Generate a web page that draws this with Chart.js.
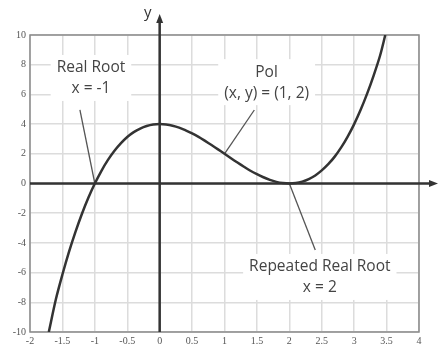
<!DOCTYPE html>
<html>
<head>
<meta charset="utf-8">
<script src="https://cdn.jsdelivr.net/npm/chart.js@4.4.1/dist/chart.umd.min.js"></script>
<style>
  html, body { margin: 0; padding: 0; background: #fff; }
  #wrap { width: 439px; height: 347px; }
</style>
</head>
<body>
<div id="wrap"><canvas id="cubicChart" width="439" height="347"></canvas></div>
<script>
// Cubic with a real root at -1 and a repeated root at 2
const xValues = [
  -1.71, -1.6, -1.5, -1.4, -1.3, -1.2, -1.1, -1.0, -0.9, -0.8, -0.7, -0.6,
  -0.5, -0.4, -0.3, -0.2, -0.1, 0, 0.1, 0.2, 0.3, 0.4, 0.5, 0.6, 0.7, 0.8,
  0.9, 1.0, 1.1, 1.2, 1.3, 1.4, 1.5, 1.6, 1.7, 1.8, 1.9, 2.0, 2.1, 2.2, 2.3,
  2.4, 2.5, 2.6, 2.7, 2.8, 2.9, 3.0, 3.1, 3.2, 3.3, 3.4, 3.48
];
const yValues = [
  -10, -7.78, -6.13, -4.62, -3.27, -2.05, -0.96, 0, 0.84, 1.57, 2.19, 2.70,
  3.13, 3.46, 3.70, 3.87, 3.97, 4, 3.97, 3.89, 3.76, 3.58, 3.38, 3.14, 2.87, 2.59,
  2.30, 2, 1.70, 1.41, 1.13, 0.86, 0.63, 0.42, 0.24, 0.11, 0.03, 0, 0.03, 0.13, 0.30,
  0.54, 0.88, 1.30, 1.81, 2.43, 3.16, 4, 4.96, 6.05, 7.27, 8.62, 10
];

// axis ranges / tick steps
const xRange = [-2, 4];
const yRange = [-10, 10];
const xStep = 0.5;
const yStep = 2;

// labels: text lines, where the text sits and which point the leader line goes to
const noteLines = [
  ['Real Root', 'x = -1'],
  ['PoI', '(x, y) = (1, 2)'],
  ['Repeated Real Root', 'x = 2']
];
const noteAt = [[-1.06, 7.78], [1.65, 7.5], [2.47, -5.62]];
const leaderFrom = [[-1.23, 4.95], [1.46, 4.95], [2.40, -4.48]];
const leaderTo = [[-1, 0], [1, 2], [2, 0]];

const points = xValues.map((x, i) => ({ x: x, y: yValues[i] }));

const noteFont = '15.5px "Open Sans", sans-serif';

const decorPlugin = {
  id: 'decor',
  beforeDatasetsDraw(chart) {
    const { ctx, chartArea: a, scales: { x, y } } = chart;
    ctx.save();

    // white boxes behind the labels (they hide the grid)
    ctx.font = noteFont;
    noteLines.forEach((lines, i) => {
      const cx = x.getPixelForValue(noteAt[i][0]);
      const cy = y.getPixelForValue(noteAt[i][1]);
      const w = Math.max(...lines.map(l => ctx.measureText(l).width));
      ctx.fillStyle = '#fff';
      ctx.fillRect(cx - w / 2 - 6, cy - 13, w + 12, 21 * lines.length + 4);
    });

    // frame
    ctx.strokeStyle = '#8a8a8a';
    ctx.lineWidth = 1.5;
    ctx.strokeRect(a.left, a.top, a.right - a.left, a.bottom - a.top);

    // leader lines
    ctx.strokeStyle = '#555';
    ctx.lineWidth = 1.3;
    leaderFrom.forEach((p, i) => {
      ctx.beginPath();
      ctx.moveTo(x.getPixelForValue(p[0]), y.getPixelForValue(p[1]));
      ctx.lineTo(x.getPixelForValue(leaderTo[i][0]), y.getPixelForValue(leaderTo[i][1]));
      ctx.stroke();
    });

    // x and y axes with arrows
    const x0 = x.getPixelForValue(0);
    const y0 = y.getPixelForValue(0);
    ctx.strokeStyle = '#333';
    ctx.fillStyle = '#333';
    ctx.lineWidth = 2.5;
    ctx.beginPath();
    ctx.moveTo(x0, a.bottom);
    ctx.lineTo(x0, a.top - 16);
    ctx.moveTo(a.left, y0);
    ctx.lineTo(a.right + 13, y0);
    ctx.stroke();
    ctx.beginPath();
    ctx.moveTo(x0, a.top - 21);
    ctx.lineTo(x0 - 3.5, a.top - 12);
    ctx.lineTo(x0 + 3.5, a.top - 12);
    ctx.closePath();
    ctx.fill();
    ctx.beginPath();
    ctx.moveTo(a.right + 19, y0);
    ctx.lineTo(a.right + 10, y0 - 3.5);
    ctx.lineTo(a.right + 10, y0 + 3.5);
    ctx.closePath();
    ctx.fill();

    ctx.fillStyle = '#333';
    ctx.font = '15px "Open Sans", sans-serif';
    ctx.textAlign = 'center';
    ctx.textBaseline = 'middle';
    ctx.fillText('y', x0 - 12, a.top - 22);
    ctx.restore();
  },
  afterDatasetsDraw(chart) {
    const { ctx, scales: { x, y } } = chart;
    ctx.save();
    ctx.font = noteFont;
    ctx.fillStyle = '#444';
    ctx.textAlign = 'center';
    ctx.textBaseline = 'middle';
    noteLines.forEach((lines, i) => {
      const cx = x.getPixelForValue(noteAt[i][0]);
      const cy = y.getPixelForValue(noteAt[i][1]);
      lines.forEach((l, j) => ctx.fillText(l, cx, cy + j * 21));
    });
    ctx.restore();
  }
};

const tickFont = { family: '"Liberation Serif", serif', size: 10 };

new Chart(document.getElementById('cubicChart').getContext('2d'), {
  type: 'scatter',
  data: {
    datasets: [{
      data: points,
      showLine: true,
      borderColor: '#333',
      borderWidth: 2.5,
      pointRadius: 0,
      tension: 0.3,
      fill: false
    }]
  },
  options: {
    responsive: false,
    animation: false,
    layout: { padding: { left: 0, top: 35, right: 20, bottom: 0 } },
    plugins: { legend: { display: false }, tooltip: { enabled: false } },
    scales: {
      x: {
        type: 'linear',
        min: xRange[0],
        max: xRange[1],
        afterFit: s => { s.height = 15; },
        ticks: {
          stepSize: xStep, color: '#555', font: tickFont, padding: 3, maxRotation: 0,
          callback: v => String(v)
        },
        grid: { color: '#dcdcdc', lineWidth: 1.5, drawTicks: false },
        border: { display: false }
      },
      y: {
        type: 'linear',
        min: yRange[0],
        max: yRange[1],
        afterFit: s => { s.width = 30; },
        ticks: { stepSize: yStep, color: '#555', font: tickFont, padding: 4, callback: v => String(v) },
        grid: { color: '#dcdcdc', lineWidth: 1.5, drawTicks: false },
        border: { display: false }
      }
    }
  },
  plugins: [decorPlugin]
});
</script>
</body>
</html>
